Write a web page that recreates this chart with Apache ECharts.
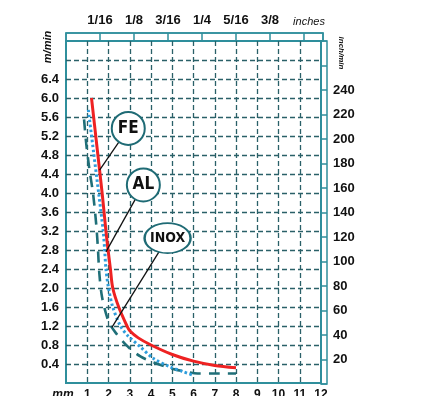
<!DOCTYPE html>
<html><head><meta charset="utf-8">
<script src="https://cdn.jsdelivr.net/npm/echarts@6/dist/echarts.min.js"></script>
<style>html,body{margin:0;padding:0;background:#fff}#c{width:421px;height:396px}</style>
</head><body><div id="c"></div>
<script>
// ---- data ----
const mmLabels = ['mm','1','2','3','4','5','6','7','8','9','10','11','12'];
const mMinLabels = ['0.4','0.8','1.2','1.6','2.0','2.4','2.8','3.2','3.6','4.0','4.4','4.8','5.2','5.6','6.0','6.4'];
const inchLabels = ['', '1/16', '1/8', '3/16', '1/4', '5/16', '3/8', 'inches'];
const inMinLabels = ['20','40','60','80','100','120','140','160','180','200','220','240'];

const feData = [[1.2,6.0],[1.45,5.0],[1.7,4.0],[1.88,3.2],[1.98,2.8],[2.09,2.4],[2.2,2.0],[2.48,1.6],[2.87,1.2],[3.0,1.1],[3.4,0.95],[4.0,0.8],[5.0,0.6],[6.0,0.46],[7.0,0.37],[8.0,0.32]];
const alData = [[1.05,5.75],[1.3,4.85],[1.55,3.95],[1.75,3.2],[1.82,2.8],[1.88,2.4],[2.0,2.0],[2.2,1.6],[2.56,1.2],[2.9,1.0],[3.5,0.76],[4.1,0.52],[4.9,0.34],[5.5,0.24],[6.0,0.16]];
const inoxData = [[0.85,5.55],[0.95,5.05],[1.1,4.5],[1.27,4.0],[1.42,3.35],[1.5,2.85],[1.57,2.3],[1.7,1.8],[2.0,1.3],[2.35,1.05],[2.9,0.77],[3.5,0.56],[4.2,0.42],[5.0,0.3],[5.6,0.24],[6.2,0.2],[7.0,0.2],[8.0,0.2]];

const tagNames = ['FE', 'AL', 'INOX'];
const tagAt = [[2.93,5.36],[3.64,4.17],[4.78,3.05]];
const tagPointsTo = [[1.58,4.48],[1.88,2.76],[2.16,1.17]];

// ---- styles ----
const TEAL = '#2f8f9c';
const GRID = '#2a6068';
const TXT = '#111';
const FONT = '"Liberation Sans", Arial, sans-serif';
const NARROW = '"Liberation Sans Narrow", "DejaVu Sans Condensed", "Liberation Sans", sans-serif';

const chart = echarts.init(document.getElementById('c'), null, {renderer: 'canvas'});

const ellipse = 'path://M0,15A23,15,0,1,1,46,15A23,15,0,1,1,0,15Z';

const tagSeries = tagNames.map((n, i) => ({
  type: 'scatter', xAxisIndex: 0, yAxisIndex: 0, z: 5,
  data: [tagAt[i]],
  symbol: n === 'INOX' ? ellipse : 'circle',
  symbolSize: n === 'INOX' ? [46, 30] : 33,
  itemStyle: {color: '#fff', borderColor: '#1f6b75', borderWidth: 2, opacity: 1},
  label: {show: true, position: 'inside', formatter: n, color: TXT, fontFamily: NARROW, fontWeight: 'bold',
          fontSize: n === 'INOX' ? 14 : 17},
  silent: true
}));
const leaderSeries = tagNames.map((n, i) => ({
  type: 'line', xAxisIndex: 0, yAxisIndex: 0, z: 4,
  data: [tagAt[i], tagPointsTo[i]],
  showSymbol: false, lineStyle: {color: '#111', width: 1.3}, silent: true
}));

const hiddenAxis = (g) => ({type: 'value', gridIndex: g, min: 0, max: 1, show: false});

const option = {
  animation: false,
  backgroundColor: '#fff',
  grid: [
    {left: 66, top: 41, width: 255, height: 342, outerBoundsMode: 'none', containLabel: false, show: true, borderColor: TEAL, borderWidth: 2, backgroundColor: 'transparent'},
    {left: 66, top: 33, width: 257, height: 8, outerBoundsMode: 'none', containLabel: false, show: true, borderColor: TEAL, borderWidth: 1.5},
    {left: 321, top: 41, width: 6, height: 343, outerBoundsMode: 'none', containLabel: false, show: true, borderColor: TEAL, borderWidth: 1.5}
  ],
  xAxis: [
    {type: 'value', gridIndex: 0, min: 0, max: 12, interval: 1, position: 'bottom',
     axisLine: {show: false, onZero: false}, axisTick: {show: false},
     splitLine: {show: true, showMinLine: false, showMaxLine: false, lineStyle: {color: GRID, type: [5, 3], width: 1.3}},
     axisLabel: {margin: 6, color: TXT, fontFamily: FONT, fontWeight: 'bold', fontSize: 12,
       formatter: v => { const s = mmLabels[Math.round(v)]; return v === 0 ? '{i|' + s + '}' : s; },
       rich: {i: {fontStyle: 'italic', fontWeight: 'bold', fontSize: 12, fontFamily: FONT, color: TXT, padding: [0, 6, 0, 0]}}}},
    {type: 'value', gridIndex: 1, min: 0, max: 12 / 25.4, interval: 1 / 16, position: 'top',
     axisLine: {show: true, onZero: false, lineStyle: {color: TEAL, width: 1.5}},
     axisTick: {show: true, inside: true, length: 8, lineStyle: {color: TEAL, width: 1.5}},
     splitLine: {show: false},
     axisLabel: {margin: 6, color: TXT, fontFamily: FONT, fontWeight: 'bold', fontSize: 13,
       formatter: v => { const k = Math.round(v * 16); if (Math.abs(v * 16 - k) > 1e-6) return ''; const s = inchLabels[k] || ''; return s === 'inches' ? '{i|' + s + '}' : s; },
       rich: {i: {fontStyle: 'italic', fontWeight: 'normal', fontSize: 11, fontFamily: FONT, color: TXT, padding: [0, 0, 0, 10]}}}},
    hiddenAxis(2)
  ],
  yAxis: [
    {type: 'value', gridIndex: 0, min: 0, max: 7.2, interval: 0.4,
     axisLine: {show: false, onZero: false}, axisTick: {show: false},
     splitLine: {show: true, showMinLine: false, showMaxLine: false, lineStyle: {color: GRID, type: [5, 3], width: 1.3}},
     axisLabel: {margin: 7, color: TXT, fontFamily: FONT, fontWeight: 'bold', fontSize: 13,
       formatter: v => { const s = v.toFixed(1); return mMinLabels.indexOf(s) >= 0 ? s : ''; }}},
    hiddenAxis(1),
    {type: 'value', gridIndex: 2, min: 0, max: 280, interval: 20, position: 'right',
     axisLine: {show: false, onZero: false},
     axisTick: {show: true, inside: true, length: 6, lineStyle: {color: TEAL, width: 1.5}},
     splitLine: {show: false},
     axisLabel: {margin: 6, color: TXT, fontFamily: FONT, fontWeight: 'bold', fontSize: 13,
       formatter: v => { const s = String(Math.round(v)); return inMinLabels.indexOf(s) >= 0 ? s : ''; }}}
  ],
  graphic: [
    {type: 'text', x: 48, y: 47, rotation: Math.PI / 2, silent: true,
     style: {text: 'm/min', fill: TXT, font: 'italic bold 11px ' + FONT, align: 'center', verticalAlign: 'middle'}},
    {type: 'text', x: 341, y: 53, rotation: -Math.PI / 2, silent: true,
     style: {text: 'inch/min', fill: TXT, font: 'italic bold 8px ' + FONT, align: 'center', verticalAlign: 'middle'}}
  ],
  series: [
    {type: 'line', name: 'INOX', xAxisIndex: 0, yAxisIndex: 0, z: 3, data: inoxData, smooth: 0.3, showSymbol: false,
     lineStyle: {color: '#1f6f78', width: 2.6, type: [11, 8]}},
    {type: 'line', name: 'AL', xAxisIndex: 0, yAxisIndex: 0, z: 3, data: alData, smooth: 0.3, showSymbol: false,
     lineStyle: {color: '#2e9ddc', width: 3, type: [2.5, 2.5]}},
    {type: 'line', name: 'FE', xAxisIndex: 0, yAxisIndex: 0, z: 3, data: feData, smooth: 0.3, showSymbol: false,
     lineStyle: {color: '#ee2222', width: 3}},
    ...leaderSeries,
    ...tagSeries
  ]
};
chart.setOption(option);
</script>
</body></html>
